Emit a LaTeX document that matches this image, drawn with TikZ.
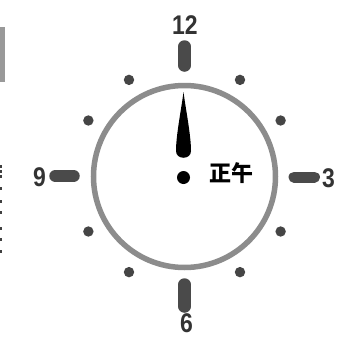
\documentclass[tikz,border=0pt]{standalone}
\usepackage{fontspec}
\usepackage{graphicx}
\usetikzlibrary{calc}
\setmainfont{Liberation Sans}
\newfontfamily\cjk{Noto Sans CJK SC}
\definecolor{ringgray}{HTML}{8C8C8C}
\definecolor{tickgray}{HTML}{4A4A4A}
\definecolor{dotgray}{HTML}{454545}
\definecolor{digitgray}{HTML}{333333}
\tikzset{
  tickbar/.style={line width=12.5pt, line cap=round, tickgray},
  hourdot/.style={fill=dotgray},
  digit/.style={text=digitgray, font=\fontsize{27}{27}\selectfont\bfseries, inner sep=0pt},
  fragment/.style={fill=#1}
}
\begin{document}
\begin{tikzpicture}[x=1pt,y=-1pt]
\useasboundingbox (0,0) rectangle (338,338);
\fill[white] (0,0) rectangle (338,338);
% left fragments
\fill[fragment=black!40] (0,27) rectangle (4.5,82);
\foreach \yy/\hh in {165/3,170/3,175/3,187/2.5,200/2.5,211/2.5,227/2.5,238/2.5,250/2.5}
  \fill[fragment=black!75] (0,\yy) rectangle (2,\yy+\hh);
% ring
\draw[ringgray, line width=5.5pt] (184.5,176.5) circle[radius=91pt];
% hour dots
\foreach \a in {30,60,120,150,210,240,300,330}
  \fill[hourdot] ($(184.5,176)+(\a:111)$) circle[radius=5.2pt];
% tick bars
\draw[tickbar] (184.5,46.5) -- (184.5,65.5);
\draw[tickbar] (184.5,284.5) -- (184.5,306.5);
\draw[tickbar] (55.5,176) -- (73.5,176);
\draw[tickbar, line width=11pt] (294,177) -- (314.5,177);
% digits
\node[digit] (d12) at (185,25) {\scalebox{0.85}[1]{12}};
\node[digit] (d9) at (39.5,177.5) {\scalebox{0.85}[1]{9}};
\node[digit] (d3) at (328.5,178.5) {\scalebox{0.85}[1]{3}};
\node[digit] (d6) at (186.5,323.5) {\scalebox{0.85}[1]{6}};
% hand
\fill[black] (183.5,92) .. controls (185.5,108) and (191,135) .. (191,151)
  .. controls (191,160) and (176,160) .. (176,151)
  .. controls (176,135) and (181.5,108) .. (183.5,92) -- cycle;
\fill[black] (183.5,177.5) circle[radius=6.5pt];
% label
\node[inner sep=0pt, font=\cjk\bfseries\fontsize{22}{22}\selectfont] (noon) at (231.5,173) {正午};
\end{tikzpicture}
\end{document}
